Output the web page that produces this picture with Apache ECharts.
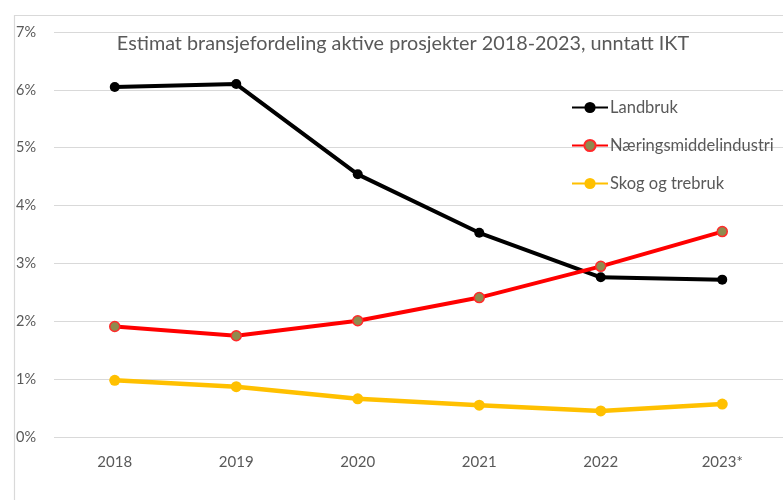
<!DOCTYPE html>
<html>
<head>
<meta charset="utf-8">
<script src="https://cdn.jsdelivr.net/npm/echarts@6/dist/echarts.min.js"></script>
<style>html,body{margin:0;padding:0;background:#fff;}#c{width:783px;height:500px;}</style>
</head>
<body>
<div id="c"></div>
<script>
const titleText = 'Estimat bransjefordeling aktive prosjekter 2018-2023, unntatt IKT';
const categories = ['2018', '2019', '2020', '2021', '2022', '2023*'];
const landbruk = [6.05, 6.10, 4.54, 3.53, 2.76, 2.72];
const naering = [1.91, 1.75, 2.01, 2.41, 2.95, 3.55];
const skog = [0.98, 0.87, 0.66, 0.55, 0.45, 0.57];
const seriesNames = ['Landbruk', 'Næringsmiddelindustri', 'Skog og trebruk'];

const FONT = 'Lato';
const chart = echarts.init(document.getElementById('c'), null, {renderer: 'canvas'});
chart.setOption({
  animation: false,
  backgroundColor: '#fff',
  textStyle: {fontFamily: FONT},
  graphic: [{
    type: 'rect', left: 12, top: 13, silent: true, z: -1,
    shape: {width: 800, height: 520},
    style: {fill: 'none', stroke: '#d9d9d9', lineWidth: 1.2}
  }],
  title: {
    text: titleText, left: 398, top: 29, textAlign: 'center',
    textStyle: {fontFamily: FONT, fontSize: 19.8, fontWeight: 'normal', color: '#595959'}
  },
  legend: {
    orient: 'vertical', left: 566, top: 94, itemWidth: 36, itemHeight: 14, itemGap: 21,
    textStyle: {fontFamily: FONT, fontSize: 16.5, lineHeight: 16, color: '#595959', padding: [0, 0, 0, -3]},
    data: seriesNames
  },
  grid: {left: 54, top: 32, width: 733, height: 405, containLabel: false},
  xAxis: {
    type: 'category', data: categories, boundaryGap: true,
    axisLine: {show: false}, axisTick: {show: false},
    axisLabel: {fontFamily: FONT, fontSize: 15, color: '#595959', margin: 18}
  },
  yAxis: {
    type: 'value', min: 0, max: 7, interval: 1,
    axisLine: {show: false}, axisTick: {show: false},
    axisLabel: {fontFamily: FONT, fontSize: 14.5, color: '#595959', margin: 18, formatter: v => v + '%'},
    splitLine: {lineStyle: {color: '#d9d9d9', width: 1.2}}
  },
  series: [
    {
      name: seriesNames[0], type: 'line', data: landbruk,
      symbol: 'circle', symbolSize: 10,
      lineStyle: {color: '#000000', width: 4},
      itemStyle: {color: '#000000'}
    },
    {
      name: seriesNames[1], type: 'line', data: naering,
      symbol: 'circle', symbolSize: 10,
      lineStyle: {color: '#ff0000', width: 4},
      itemStyle: {color: '#8f8a4e', borderColor: '#ff2a2a', borderWidth: 1.5}
    },
    {
      name: seriesNames[2], type: 'line', data: skog,
      symbol: 'circle', symbolSize: 11,
      lineStyle: {color: '#ffc000', width: 4.5},
      itemStyle: {color: '#ffc000'}
    }
  ]
});
</script>
</body>
</html>
